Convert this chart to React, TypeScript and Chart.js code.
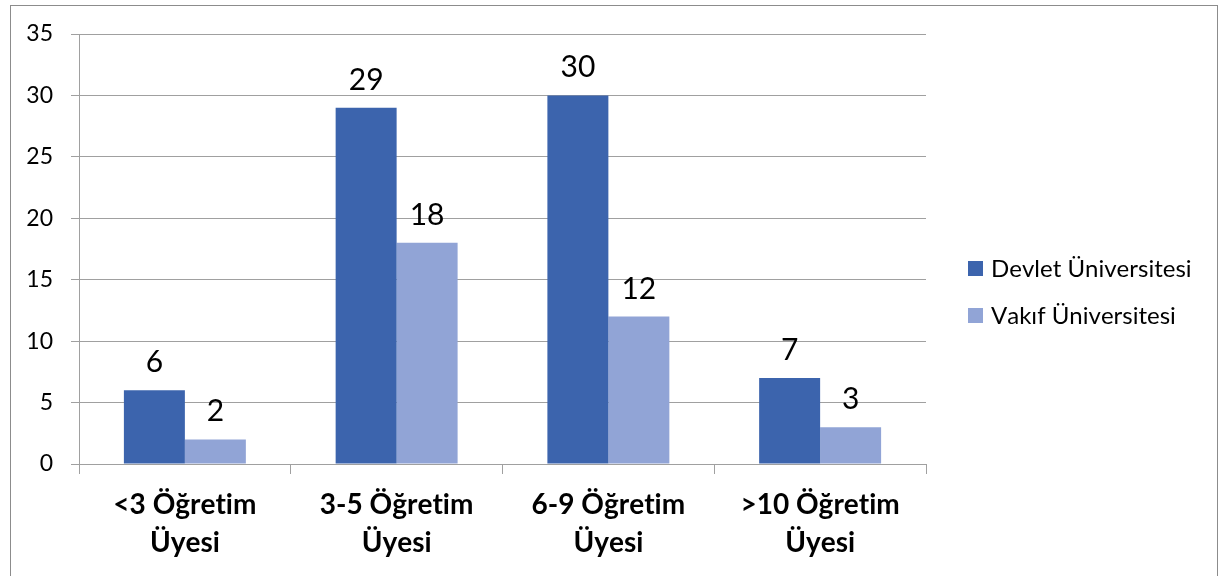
import React, { useEffect, useRef } from "react";
import { Chart, registerables } from "chart.js";

Chart.register(...registerables);

const categories: string[][] = [
  ["<3 Öğretim", "Üyesi"],
  ["3-5 Öğretim", "Üyesi"],
  ["6-9 Öğretim", "Üyesi"],
  [">10 Öğretim", "Üyesi"],
];
const seriesNames = ["Devlet Üniversitesi", "Vakıf Üniversitesi"];
const devletValues = [6, 29, 30, 7];
const vakifValues = [2, 18, 12, 3];
const seriesColors = ["#3C64AD", "#91A4D6"];
const yMin = 0;
const yMax = 35;
const yStep = 5;

const FONT = "Lato, 'Open Sans', sans-serif";
const GRID = "#a0a0a0";

const framePlugin = {
  id: "frame",
  beforeDraw(chart: any) {
    const { ctx, width, height } = chart;
    ctx.textRendering = "optimizeSpeed";
    ctx.fontKerning = "none";
    ctx.save();
    ctx.fillStyle = "#ffffff";
    ctx.fillRect(0, 0, width, height);
    ctx.strokeStyle = "#8c8c8c";
    ctx.lineWidth = 1;
    ctx.strokeRect(10.5, 5.5, 1207, 640);
    ctx.restore();
  },
};

const dataLabelPlugin = {
  id: "dataLabels",
  afterDatasetsDraw(chart: any) {
    const { ctx } = chart;
    ctx.save();
    ctx.font = `30px ${FONT}`;
    ctx.fillStyle = "#000000";
    ctx.textAlign = "center";
    ctx.textBaseline = "alphabetic";
    chart.data.datasets.forEach((ds: any, i: number) => {
      const meta = chart.getDatasetMeta(i);
      meta.data.forEach((el: any, j: number) => {
        ctx.fillText(String(ds.data[j]), el.x, el.y - 18);
      });
    });
    ctx.restore();
  },
};

const legendPlugin = {
  id: "customLegend",
  afterDraw(chart: any) {
    const { ctx } = chart;
    ctx.save();
    ctx.font = `24px ${FONT}`;
    ctx.textAlign = "left";
    ctx.textBaseline = "middle";
    chart.data.datasets.forEach((ds: any, i: number) => {
      const top = 261 + i * 47;
      ctx.fillStyle = ds.backgroundColor;
      ctx.fillRect(968, top, 15, 15);
      ctx.fillStyle = "#000000";
      ctx.fillText(ds.label, 991, top + 8);
    });
    ctx.restore();
  },
};

export default function App() {
  const canvasRef = useRef<HTMLCanvasElement | null>(null);

  useEffect(() => {
    document.body.style.margin = "0";
    const canvas = canvasRef.current;
    if (!canvas) return;
    const chart = new Chart(canvas, {
      type: "bar",
      data: {
        labels: categories,
        datasets: [
          {
            label: seriesNames[0],
            data: devletValues,
            backgroundColor: seriesColors[0],
            categoryPercentage: 0.576,
            barPercentage: 1,
          },
          {
            label: seriesNames[1],
            data: vakifValues,
            backgroundColor: seriesColors[1],
            categoryPercentage: 0.576,
            barPercentage: 1,
          },
        ],
      },
      options: {
        responsive: false,
        animation: false,
        devicePixelRatio: 1,
        layout: { padding: { left: 0, top: 34, right: 294, bottom: 0 } },
        plugins: {
          legend: { display: false },
          tooltip: { enabled: false },
        },
        scales: {
          x: {
            grid: {
              display: true,
              drawOnChartArea: false,
              drawTicks: true,
              tickLength: 10,
              offset: true,
              color: GRID,
            },
            border: { color: GRID },
            ticks: {
              color: "#000000",
              padding: 12,
              maxRotation: 0,
              autoSkip: false,
              font: { family: FONT, size: 28, weight: "bold", lineHeight: 1.36 },
            },
            afterFit(scale: any) {
              scale.height = 112;
            },
          },
          y: {
            min: yMin,
            max: yMax,
            grid: { color: GRID, tickLength: 8, drawTicks: true },
            border: { color: GRID },
            ticks: {
              stepSize: yStep,
              color: "#000000",
              padding: 18,
              font: { family: FONT, size: 23 },
            },
            afterFit(scale: any) {
              scale.width = 79;
            },
          },
        },
      },
      plugins: [framePlugin, dataLabelPlugin, legendPlugin],
    } as any);
    return () => chart.destroy();
  }, []);

  return (
    <div style={{ width: 1220, height: 576 }}>
      <canvas ref={canvasRef} width={1220} height={576} style={{ display: "block" }} />
    </div>
  );
}
